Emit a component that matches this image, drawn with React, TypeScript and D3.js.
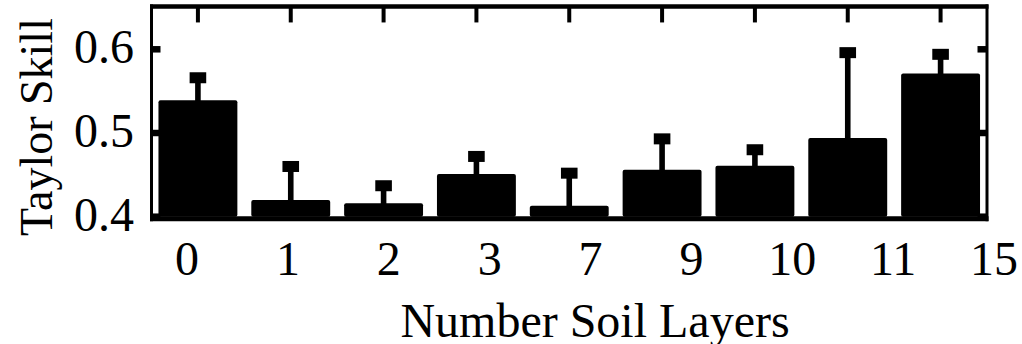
import React from "react";
import * as d3 from "d3";

const categories = ["0", "1", "2", "3", "7", "9", "10", "11", "15"];
const meanSkill = [0.539, 0.42, 0.416, 0.451, 0.413, 0.456, 0.461, 0.494, 0.571];
const upperError = [0.027, 0.04, 0.021, 0.021, 0.039, 0.037, 0.019, 0.102, 0.023];
const yTicks = [0.4, 0.5, 0.6];
const yDomain = [0.4, 0.65];

const W = 1022;
const H = 344;
const FONT = "'Liberation Serif', 'Times New Roman', serif";

export default function App() {
  const left = 151.5;
  const right = 987;
  const x = d3
    .scaleBand<string>()
    .domain(categories)
    .range([left, right])
    .paddingInner(0.15)
    .paddingOuter(0.075);
  const y = d3.scaleLinear().domain(yDomain).range([216.7, 7.45]);
  const labelX = d3.scalePoint<string>().domain(categories).range([187, 994]);

  const top = y(yDomain[1]);
  const bottom = y(yDomain[0]);
  const bw = x.bandwidth();

  return (
    <svg
      width={W}
      height={H}
      style={{ position: "absolute", left: 0, top: 0, display: "block", background: "#fff" }}
    >
      {/* bars */}
      {categories.map((c, i) => {
        const x0 = x(c)!;
        const yt = y(meanSkill[i]);
        return (
          <rect
            key={"b" + c}
            x={x0}
            y={yt}
            width={bw}
            height={bottom - yt}
            rx={2}
            fill="#000"
          />
        );
      })}
      {/* error whiskers */}
      {categories.map((c, i) => {
        const cx = x(c)! + bw / 2;
        const yt = y(meanSkill[i]);
        const yh = y(meanSkill[i] + upperError[i]);
        return (
          <g key={"e" + c}>
            <rect x={cx - 2.8} y={yh} width={5.6} height={yt - yh + 1} fill="#000" />
            <rect x={cx - 8.3} y={yh - 5.5} width={16.6} height={11} fill="#000" />
          </g>
        );
      })}
      {/* frame */}
      <line x1={left - 1.5} x2={right + 1.5} y1={top - 1} y2={top - 1} stroke="#000" strokeWidth={4.6} />
      <line x1={left - 1.5} x2={right + 1.5} y1={bottom + 2} y2={bottom + 2} stroke="#000" strokeWidth={5} />
      <line x1={left} x2={left} y1={top - 3} y2={bottom + 4.5} stroke="#000" strokeWidth={3} />
      <line x1={right} x2={right} y1={top - 3} y2={bottom + 4.5} stroke="#000" strokeWidth={3} />
      {/* top x ticks */}
      {categories.map((c) => {
        const cx = x(c)! + bw / 2;
        return <line key={"t" + c} x1={cx} x2={cx} y1={top} y2={top + 15} stroke="#000" strokeWidth={4} />;
      })}
      {/* y ticks left and right */}
      {yTicks.map((t) => (
        <g key={"yt" + t}>
          <line x1={left} x2={left + 9} y1={y(t)} y2={y(t)} stroke="#000" strokeWidth={6.5} />
          <line x1={right - 9.5} x2={right} y1={y(t)} y2={y(t)} stroke="#000" strokeWidth={6.5} />
        </g>
      ))}
      {/* y tick labels */}
      {yTicks.map((t) => (
        <text
          key={"yl" + t}
          x={134}
          y={y(t) + 14}
          textAnchor="end"
          fontFamily={FONT}
          fontSize={48}
          fill="#000"
        >
          {d3.format(".1f")(t)}
        </text>
      ))}
      {/* x tick labels */}
      {categories.map((c) => (
        <text
          key={"xl" + c}
          x={labelX(c)}
          y={275}
          textAnchor="middle"
          fontFamily={FONT}
          fontSize={48}
          fill="#000"
        >
          {c}
        </text>
      ))}
      {/* axis titles */}
      <text
        x={595}
        y={337}
        textAnchor="middle"
        fontFamily={FONT}
        fontSize={48}
        fill="#000"
      >
        Number Soil Layers
      </text>
      <text
        transform="translate(52,127) rotate(-90)"
        textAnchor="middle"
        fontFamily={FONT}
        fontSize={46}
        fill="#000"
      >
        Taylor Skill
      </text>
    </svg>
  );
}
